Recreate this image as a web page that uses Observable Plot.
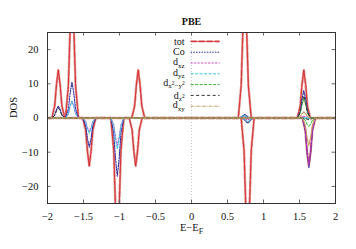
<!DOCTYPE html>
<html><head><meta charset="utf-8">
<script src="https://cdn.jsdelivr.net/npm/d3@7"></script>
<script src="https://cdn.jsdelivr.net/npm/@observablehq/plot@0.6"></script>
<style>body{margin:0;background:#fff}</style>
</head><body><div id="chart"></div>
<script>
// ---- data: [energy, DOS] points (spin up > 0, spin down < 0)
const seriesNames = ["tot", "Co", "dxz", "dyz", "dx2y2", "dz2", "dxy"];
const xTicks = [-2, -1.5, -1, -0.5, 0, 0.5, 1, 1.5, 2];
const yTicks = [-20, -10, 0, 10, 20];
const titleText = "PBE";

const totUp = [[-2,0],[-1.94,0],[-1.9,3.5],[-1.875,9.8],[-1.85,14],[-1.825,9.8],[-1.8,3.5],[-1.76,0],[-1.75,0],[-1.71,9.5],[-1.685,26.6],[-1.66,38],[-1.635,26.6],[-1.61,9.5],[-1.57,0],[-0.83,0],[-0.79,3.5],[-0.765,9.8],[-0.74,14],[-0.715,9.8],[-0.69,3.5],[-0.65,0],[0.65,0],[0.69,9.5],[0.715,26.6],[0.74,38],[0.765,26.6],[0.79,9.5],[0.83,0],[1.47,0],[1.51,3.5],[1.535,9.8],[1.56,14],[1.585,9.8],[1.61,3.5],[1.65,0],[2,0]];
const totDown = [[-2,0],[-1.51,0],[-1.47,-3.5],[-1.445,-9.8],[-1.42,-14],[-1.395,-9.8],[-1.37,-3.5],[-1.33,0],[-1.12,0],[-1.08,-9.5],[-1.055,-26.6],[-1.03,-38],[-1.005,-26.6],[-0.98,-9.5],[-0.94,0],[-0.865,0],[-0.825,-3.5],[-0.8,-9.8],[-0.775,-14],[-0.75,-9.8],[-0.725,-3.5],[-0.685,0],[0.69,0],[0.73,-9.5],[0.755,-26.6],[0.78,-38],[0.805,-26.6],[0.83,-9.5],[0.87,0],[1.54,0],[1.58,-3.5],[1.605,-9.8],[1.63,-14],[1.655,-9.8],[1.68,-3.5],[1.72,0],[2,0]];
const coUp = [[-2,0],[-1.94,0],[-1.9,0.9],[-1.875,2.5],[-1.85,3.5],[-1.825,2.5],[-1.8,0.9],[-1.76,0],[-1.75,0],[-1.71,2.6],[-1.685,7.4],[-1.66,10.5],[-1.635,7.4],[-1.61,2.6],[-1.57,0],[0.65,0],[0.69,0.25],[0.715,0.7],[0.74,1],[0.765,0.7],[0.79,0.25],[0.83,0],[1.47,0],[1.51,2],[1.535,5.6],[1.56,8],[1.585,5.6],[1.61,2],[1.65,0],[2,0]];
const coDown = [[-2,0],[-1.51,0],[-1.47,-2.1],[-1.445,-6],[-1.42,-8.5],[-1.395,-6],[-1.37,-2.1],[-1.33,0],[-1.12,0],[-1.08,-4.3],[-1.055,-11.9],[-1.03,-17],[-1.005,-11.9],[-0.98,-4.3],[-0.94,0],[0.69,0],[0.73,-0.4],[0.755,-1],[0.78,-1.5],[0.805,-1],[0.83,-0.4],[0.87,0],[1.54,0],[1.58,-3.6],[1.605,-10.2],[1.63,-14.5],[1.655,-10.2],[1.68,-3.6],[1.72,0],[2,0]];
const dxzUp = [[-2,0],[-1.75,0],[-1.71,1.2],[-1.685,3.5],[-1.66,5],[-1.635,3.5],[-1.61,1.2],[-1.57,0],[0.65,0],[0.69,0.1],[0.715,0.3],[0.74,0.4],[0.765,0.3],[0.79,0.1],[0.83,0],[1.47,0],[1.51,0.1],[1.535,0.35],[1.56,0.5],[1.585,0.35],[1.61,0.1],[1.65,0],[2,0]];
const dxzDown = [[-2,0],[-1.51,0],[-1.47,-1],[-1.445,-2.8],[-1.42,-4],[-1.395,-2.8],[-1.37,-1],[-1.33,0],[-1.12,0],[-1.08,-2],[-1.055,-5.6],[-1.03,-8],[-1.005,-5.6],[-0.98,-2],[-0.94,0],[0.69,0],[0.73,-0.1],[0.755,-0.35],[0.78,-0.5],[0.805,-0.35],[0.83,-0.1],[0.87,0],[1.54,0],[1.58,-3.5],[1.605,-9.8],[1.63,-14],[1.655,-9.8],[1.68,-3.5],[1.72,0],[2,0]];
const dyzUp = [[-2,0],[-1.75,0],[-1.71,1.2],[-1.685,3.5],[-1.66,5],[-1.635,3.5],[-1.61,1.2],[-1.57,0],[0.65,0],[0.69,0.15],[0.715,0.4],[0.74,0.6],[0.765,0.4],[0.79,0.15],[0.83,0],[2,0]];
const dyzDown = [[-2,0],[-1.51,0],[-1.47,-1.1],[-1.445,-3.2],[-1.42,-4.5],[-1.395,-3.2],[-1.37,-1.1],[-1.33,0],[-1.12,0],[-1.08,-2.3],[-1.055,-6.3],[-1.03,-9],[-1.005,-6.3],[-0.98,-2.3],[-0.94,0],[0.69,0],[0.73,-0.25],[0.755,-0.7],[0.78,-1],[0.805,-0.7],[0.83,-0.25],[0.87,0],[2,0]];
const dx2y2Up = [[-2,0],[1.47,0],[1.51,1.4],[1.535,3.9],[1.56,5.5],[1.585,3.9],[1.61,1.4],[1.65,0],[2,0]];
const dx2y2Down = [[-2,0],[1.54,0],[1.58,-0.6],[1.605,-1.8],[1.63,-2.5],[1.655,-1.8],[1.68,-0.6],[1.72,0],[2,0]];
const dz2Up = [[-2,0],[-1.94,0],[-1.9,0.75],[-1.875,2.1],[-1.85,3],[-1.825,2.1],[-1.8,0.75],[-1.76,0],[1.47,0],[1.51,1.6],[1.535,4.5],[1.56,6.5],[1.585,4.5],[1.61,1.6],[1.65,0],[2,0]];
const dz2Down = [[-2,0],[1.54,0],[1.58,-0.1],[1.605,-0.35],[1.63,-0.5],[1.655,-0.35],[1.68,-0.1],[1.72,0],[2,0]];
const dxyUp = [[-2,0],[1.47,0],[1.51,0.45],[1.535,1.25],[1.56,1.8],[1.585,1.25],[1.61,0.45],[1.65,0],[2,0]];
const dxyDown = [[-2,0],[1.54,0],[1.58,-2],[1.605,-5.6],[1.63,-8],[1.655,-5.6],[1.68,-2],[1.72,0],[2,0]];

// ---- presentation
const curves = {
  tot: [totUp, totDown], Co: [coUp, coDown], dxz: [dxzUp, dxzDown], dyz: [dyzUp, dyzDown],
  dx2y2: [dx2y2Up, dx2y2Down], dz2: [dz2Up, dz2Down], dxy: [dxyUp, dxyDown]
};
const styles = {
  tot:   {stroke: "#d41c1c", strokeWidth: 0.8},
  Co:    {stroke: "#2b2b9e", strokeWidth: 1.1, strokeDasharray: "1.5,1.2"},
  dxz:   {stroke: "#c43cc4", strokeWidth: 1, strokeDasharray: "2,1.5"},
  dyz:   {stroke: "#38c8e0", strokeWidth: 1, strokeDasharray: "3,1.5"},
  dx2y2: {stroke: "#38b838", strokeWidth: 1, strokeDasharray: "3,1.5"},
  dz2:   {stroke: "#333333", strokeWidth: 1, strokeDasharray: "3,2.5"},
  dxy:   {stroke: "#c8965e", strokeWidth: 1.1, strokeDasharray: "3,1,1,1"}
};
const totHalo = {stroke: "#e09090", strokeWidth: 2.4, strokeDasharray: "6,2"};
const legendHtml = {
  dxz: '<tspan dy="-1">d</tspan><tspan dy="2.5" font-size="7">xz</tspan>',
  dyz: '<tspan dy="-1">d</tspan><tspan dy="2.5" font-size="7">yz</tspan>',
  dx2y2: '<tspan dy="-1.5">d</tspan><tspan dy="2" font-size="7">x</tspan><tspan dy="-3" font-size="5.5">2</tspan><tspan dy="3" font-size="7">\u2212y</tspan><tspan dy="-3" font-size="5.5">2</tspan>',
  dz2: '<tspan dy="0">d</tspan><tspan dy="2" font-size="7">z</tspan><tspan dy="-2.5" font-size="5.5">2</tspan>',
  dxy: '<tspan dy="-1">d</tspan><tspan dy="2.5" font-size="7">xy</tspan>',
  "E\u2212E": 'E\u2212E<tspan dy="3" font-size="8">F</tspan>'
};

const W = 356, H = 249, mL = 47, mR = 21, mT = 32, mB = 46;
const pxX = 4 / (W - mL - mR), pxY = 50 / (H - mT - mB); // data units per pixel
const tick = 3.5;
const serif = "Times New Roman, Liberation Serif, Times, Tinos, DejaVu Serif, Noto Serif, serif";
const fmt = d => String(d).replace("-", "\u2212");
const legX1 = -0.012, legX2 = 0.39, legY0 = 22.4, legStep = 10.8 * pxY;
const legendRows = seriesNames.map((k, i) => ({key: k, y: legY0 - i * legStep}));

const marks = [];
marks.push(Plot.ruleX([0], {stroke: "#c8c8c8", strokeDasharray: "1,2"}));
for (const k of seriesNames) {
  for (const c of curves[k]) {
    if (k === "tot") marks.push(Plot.line(c, {x: d => d[0], y: d => d[1], clip: true, ...totHalo}));
    marks.push(Plot.line(c, {x: d => d[0], y: d => d[1], clip: true, ...styles[k]}));
  }
}
// legend
for (const r of legendRows) {
  if (r.key === "tot") marks.push(Plot.link([r], {x1: legX1, x2: legX2, y1: d => d.y, y2: d => d.y, ...totHalo}));
  marks.push(Plot.link([r], {x1: legX1, x2: legX2, y1: d => d.y, y2: d => d.y, ...styles[r.key]}));
}
marks.push(Plot.text(legendRows, {x: legX1, y: d => d.y, text: d => d.key, textAnchor: "end", dx: -6, fontSize: 10, fontFamily: serif, fill: "#111"}));
// inward ticks (mirrored on all sides)
marks.push(Plot.ruleX(xTicks, {y1: -25, y2: -25 + tick * pxY, stroke: "#666"}));
marks.push(Plot.ruleX(xTicks, {y1: 25, y2: 25 - tick * pxY, stroke: "#666"}));
marks.push(Plot.ruleY(yTicks, {x1: -2, x2: -2 + tick * pxX, stroke: "#666"}));
marks.push(Plot.ruleY(yTicks, {x1: 2, x2: 2 - tick * pxX, stroke: "#666"}));
marks.push(Plot.frame({stroke: "#333"}));
marks.push(Plot.axisX({ticks: xTicks, tickFormat: fmt, tickSize: 0, tickPadding: 9, label: null, fill: "#111", fontFamily: serif, fontSize: 10.5}));
marks.push(Plot.axisY({ticks: yTicks, tickFormat: fmt, tickSize: 0, tickPadding: 9, label: null, fill: "#111", fontFamily: serif, fontSize: 10.5}));
marks.push(Plot.text([titleText], {text: d => d, frameAnchor: "top", dy: -15, fontWeight: "bold", fontSize: 10, fontFamily: serif, fill: "#111"}));
marks.push(Plot.text(["E\u2212E"], {text: d => d, frameAnchor: "bottom", dy: 27, fontSize: 10.5, fontFamily: serif, fill: "#111"}));
marks.push(Plot.text(["DOS"], {text: d => d, frameAnchor: "left", dx: -34, rotate: -90, fontSize: 10.5, fontFamily: serif, fill: "#111"}));

const chart = Plot.plot({
  width: W, height: H,
  marginLeft: mL, marginRight: mR, marginTop: mT, marginBottom: mB,
  x: {domain: [-2, 2], label: null},
  y: {domain: [-25, 25], label: null},
  style: {fontFamily: serif, fontSize: "10px", background: "#fff"},
  marks
});
document.getElementById("chart").appendChild(chart);

d3.select(chart).selectAll("text").each(function () {
  const k = this.textContent;
  if (Object.prototype.hasOwnProperty.call(legendHtml, k)) this.innerHTML = legendHtml[k];
});
</script>
</body></html>
